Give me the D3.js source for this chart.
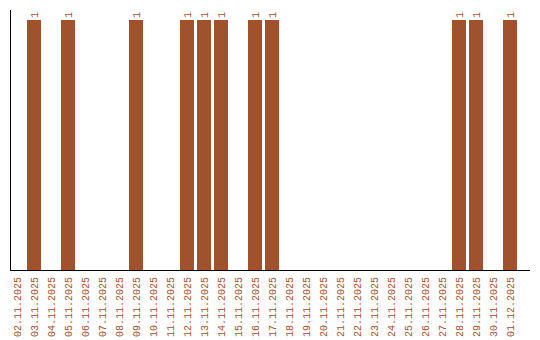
<!DOCTYPE html>
<html>
<head>
<meta charset="utf-8">
<script src="https://cdn.jsdelivr.net/npm/d3@7"></script>
<style>
  body { margin: 0; background: #fff; }
  text { font-family: "Liberation Mono", "DejaVu Sans Mono", monospace; font-size: 10px; fill: #a0522d; }
</style>
</head>
<body>
<svg width="540" height="340"></svg>
<script>
// **** data ****
var days = ["02.11.2025","03.11.2025","04.11.2025","05.11.2025","06.11.2025","07.11.2025",
  "08.11.2025","09.11.2025","10.11.2025","11.11.2025","12.11.2025","13.11.2025",
  "14.11.2025","15.11.2025","16.11.2025","17.11.2025","18.11.2025","19.11.2025",
  "20.11.2025","21.11.2025","22.11.2025","23.11.2025","24.11.2025","25.11.2025",
  "26.11.2025","27.11.2025","28.11.2025","29.11.2025","30.11.2025","01.12.2025"];
var counts = [0,1,0,1,0,0,0,1,0,0,1,1,1,0,1,1,0,0,0,0,0,0,0,0,0,0,1,1,0,1];

// **** scales ****
var xScale = d3.scaleBand()
    .domain(days).range([10, 517])
    .paddingInner(3/17).paddingOuter(0);

var yScale = d3.scaleLinear()
    .domain([0, 1]).range([270, 20]);

var svg = d3.select('svg');

var data = days.map(function(d, i) { return {day: d, count: counts[i]}; });

// bars
svg.selectAll("rect.bar")
    .data(data.filter(function(d) { return d.count > 0; }))
    .enter()
    .append("rect")
    .attr("class", "bar")
    .attr("x", function(d) { return xScale(d.day); })
    .attr("y", function(d) { return yScale(d.count); })
    .attr("width", xScale.bandwidth())
    .attr("height", function(d) { return yScale(0) - yScale(d.count); })
    .attr("fill", "#a0522d");

// value labels
svg.selectAll("text.value")
    .data(data.filter(function(d) { return d.count > 0; }))
    .enter()
    .append("text")
    .attr("class", "value")
    .attr("transform", function(d) {
        return "translate(" + (xScale(d.day) + xScale.bandwidth() / 2) + "," + (yScale(d.count) - 2) + ") rotate(-90)";
    })
    .attr("dy", "0.35em")
    .attr("text-anchor", "start")
    .text(function(d) { return d.count; });

// category labels
svg.selectAll("text.day")
    .data(days)
    .enter()
    .append("text")
    .attr("class", "day")
    .attr("transform", function(d) {
        return "translate(" + (xScale(d) + xScale.bandwidth() / 2) + ",277) rotate(-90)";
    })
    .attr("dy", "0.35em")
    .attr("text-anchor", "end")
    .text(function(d) { return d; });

// axes lines
svg.append("line")
    .attr("x1", 10.5).attr("x2", 10.5)
    .attr("y1", 10).attr("y2", 270)
    .attr("stroke", "#000");

svg.append("line")
    .attr("x1", 10).attr("x2", 530)
    .attr("y1", 270.5).attr("y2", 270.5)
    .attr("stroke", "#000");
</script>
</body>
</html>
